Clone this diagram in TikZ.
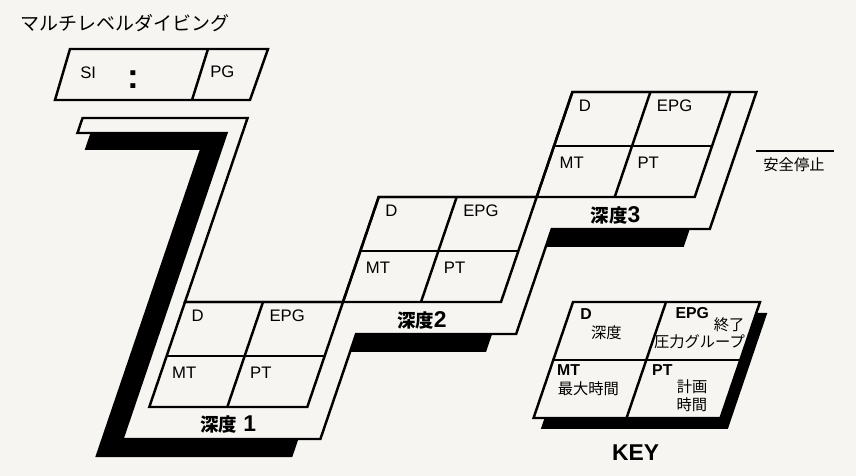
\documentclass[tikz,border=0pt]{standalone}
\usepackage{fontspec}
\setmainfont{Liberation Sans}
\newfontfamily\jp{Noto Sans CJK JP}
\definecolor{paper}{RGB}{246,245,241}
\tikzstyle{ln}=[draw=black,line width=1.4pt,line join=miter]
\tikzstyle{shd}=[fill=black]
\tikzstyle{lbl}=[inner sep=0pt,anchor=west,font=\fontsize{9.5}{10}\selectfont]
\tikzstyle{klbl}=[inner sep=0pt,anchor=west,font=\bfseries\fontsize{9}{10}\selectfont]
\tikzstyle{jpl}=[inner sep=0pt,font=\jp\fontsize{8.7}{10}\selectfont]
\tikzstyle{dep}=[inner sep=0pt]
\newcommand{\deplabel}[1]{{\jp\bfseries\fontsize{10.5}{11}\selectfont 深度}{\bfseries\fontsize{13}{13}\selectfont #1}}

\begin{document}
\begin{tikzpicture}[x=0.02cm,y=-0.02cm]
\fill[paper] (0,0) rectangle (856,476);
\useasboundingbox (0,0) rectangle (856,476);
% title and surface interval box
\node[anchor=west,inner sep=0pt,font=\jp\fontsize{10.8}{12}\selectfont] (title) at (20,23) {マルチレベルダイビング};
\draw[ln] (70,49) -- (268,49) -- (250,100) -- (55,100) -- cycle;
\draw[ln] (208,49) -- (192,100);
\node[lbl,font=\fontsize{9.5}{10}\selectfont] (si) at (80,73) {SI};
\node[inner sep=0pt,font=\bfseries\fontsize{20}{20}\selectfont] (colon) at (133,80) {:};
\node[lbl,font=\fontsize{9.5}{10}\selectfont] (pg) at (210,72) {PG};
% safety stop
\node[jpl] (stop) at (794,165) {安全停止};
\coordinate (stopl) at (756,151); \coordinate (stopr) at (834,151);
\draw[line width=1.2pt] (stopl) -- (stopr);

\begin{scope}[shift={(185,302)},xslant=0.34]
% shadows
\fill[shd] (-152,-169) -- (-16,-169) -- (-16,137) -- (160,137) -- (160,155) -- (-37,155) -- (-37,-152) -- (-152,-152) -- cycle;
\fill[shd] (160,32) -- (318,32) -- (318,50) -- (160,50) -- cycle;
\fill[shd] (320,-73) -- (480,-73) -- (480,-55) -- (320,-55) -- cycle;
% profile
\draw[ln,fill=paper] (-165,-184) -- (0,-184) -- (0,0) -- (158,0) -- (158,-105) -- (316,-105) -- (316,-210) -- (500,-210) -- (500,-73) -- (342,-73) -- (342,32) -- (182,32) -- (182,137) -- (-16,137) -- (-16,-169) -- (-165,-169) -- cycle;
% depth 1
\draw[ln] (0,0) -- (158,0) -- (158,105) -- (0,105) -- cycle;
\draw[ln] (0,54) -- (158,54); \draw[ln] (78,0) -- (78,105);
\node[lbl] (d1) at (11,14) {D}; \node[lbl] (epg1) at (89,14) {EPG};
\node[lbl] (mt1) at (11,71) {MT}; \node[lbl] (pt1) at (89,71) {PT};
\node[dep] (dep1) at (85,123) {\deplabel{ 1}};
% depth 2
\draw[ln] (158,-105) -- (316,-105) -- (316,0) -- (158,0) -- cycle;
\draw[ln] (158,-51) -- (316,-51); \draw[ln] (236,-105) -- (236,0);
\node[lbl] (d2) at (169,-91) {D}; \node[lbl] (epg2) at (247,-91) {EPG};
\node[lbl] (mt2) at (169,-34) {MT}; \node[lbl] (pt2) at (247,-34) {PT};
\node[dep] (dep2) at (243,18) {\deplabel{2}};
% depth 3
\draw[ln] (316,-210) -- (474,-210) -- (474,-105) -- (316,-105) -- cycle;
\draw[ln] (316,-156) -- (474,-156); \draw[ln] (394,-210) -- (394,-105);
\node[lbl] (d3) at (327,-196) {D}; \node[lbl] (epg3) at (405,-196) {EPG};
\node[lbl] (mt3) at (327,-139) {MT}; \node[lbl] (pt3) at (405,-139) {PT};
\node[dep] (dep3) at (401,-87) {\deplabel{3}};
% key
\fill[shd] (399,11) -- (586,11) -- (586,127) -- (399,127) -- cycle;
\draw[ln,fill=paper] (388,0) -- (575,0) -- (575,116) -- (388,116) -- cycle;
\draw[ln] (388,58) -- (575,58); \draw[ln] (481,0) -- (481,116);
\node[klbl] (kd) at (399,12) {D}; \node[jpl] (kdepth) at (432,31) {深度};
\node[klbl] (kepg) at (494,11) {EPG}; \node[jpl] (kend) at (552,23) {終了};
\node[jpl] (kgroup) at (528,40) {圧力グループ};
\node[klbl] (kmt) at (395,68) {MT}; \node[jpl] (kmax) at (433,87) {最大時間};
\node[klbl] (kpt) at (490,68) {PT}; \node[jpl] (kplan) at (536,85) {計画};
\node[jpl] (ktime) at (542,103) {時間};
\node[inner sep=0pt,font=\bfseries\fontsize{13}{14}\selectfont] (key) at (502,151) {KEY};
\end{scope}
\end{tikzpicture}
\end{document}
